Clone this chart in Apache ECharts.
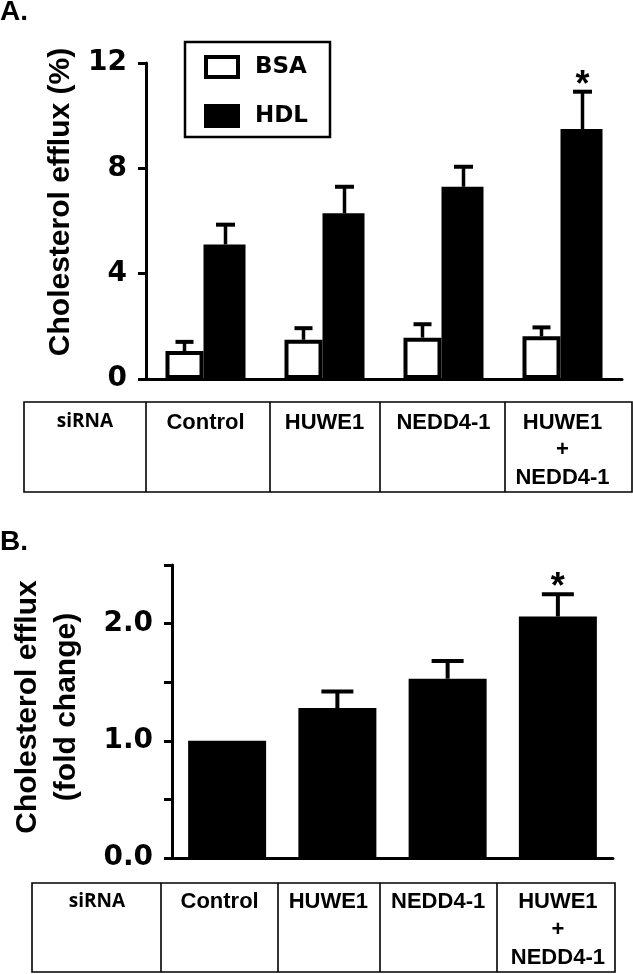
<!DOCTYPE html>
<html>
<head>
<meta charset="utf-8">
<script src="https://cdn.jsdelivr.net/npm/echarts@6/dist/echarts.min.js"></script>
<style>html,body{margin:0;padding:0;background:#fff;}#c{width:633px;height:974px;}</style>
</head>
<body>
<div id="c"></div>
<script>
// ---- data ----
const categories = ['Control', 'HUWE1', 'NEDD4-1', 'HUWE1\n+\nNEDD4-1'];
const rowHeader = 'siRNA';
const seriesNamesA = ['BSA', 'HDL'];
const bsaMean = [1.06, 1.49, 1.57, 1.62];
const bsaSem  = [0.35, 0.44, 0.51, 0.34];
const hdlMean = [5.11, 6.29, 7.30, 9.49];
const hdlSem  = [0.75, 1.01, 0.76, 1.42];
const sigA    = ['', '', '', '*'];
const foldMean = [1.0, 1.28, 1.53, 2.06];
const foldSem  = [0, 0.14, 0.15, 0.19];
const sigB     = ['', '', '', '*'];
const yTitleA = 'Cholesterol efflux (%)';
const yTitleB = 'Cholesterol efflux\n(fold change)';

// ---- style ----
const BLACK = '#000';
const ARIAL = '"Liberation Sans", Arial, sans-serif';
const DEJAVU = '"DejaVu Sans", sans-serif';
const labelShiftB = [15, 18, 19, 0];

function errRender(offset, capW, lw, sig, starGap) {
  return function (params, api) {
    const i = api.value(0), m = api.value(1), s = api.value(2);
    const p0 = api.coord([i, m]);
    const p1 = api.coord([i, m + s]);
    const x = p0[0] + offset;
    const children = [];
    if (s > 0) {
      children.push({type: 'line', shape: {x1: x, y1: p0[1], x2: x, y2: p1[1]}, style: {stroke: BLACK, lineWidth: lw}});
      children.push({type: 'line', shape: {x1: x - capW / 2, y1: p1[1], x2: x + capW / 2, y2: p1[1]}, style: {stroke: BLACK, lineWidth: 4}});
    }
    if (sig && sig[i]) {
      children.push({type: 'text', x: x, y: p1[1] - starGap,
        style: {text: sig[i], fill: BLACK, font: 'bold 36px ' + ARIAL, align: 'center', verticalAlign: 'middle', textAlign: 'center', textVerticalAlign: 'middle'}});
    }
    return {type: 'group', children: children};
  };
}

function tableEls(x0, x1, y0, y1, cols, hx, hy) {
  const els = [{type: 'rect', shape: {x: x0, y: y0, width: x1 - x0, height: y1 - y0}, style: {fill: null, stroke: BLACK, lineWidth: 1.6}}];
  cols.forEach(function (cx) {
    els.push({type: 'line', shape: {x1: cx, y1: y0, x2: cx, y2: y1}, style: {stroke: BLACK, lineWidth: 1.6}});
  });
  els.push({type: 'text', x: hx, y: hy, style: {text: rowHeader, fill: BLACK, font: 'bold 19px "Open Sans", sans-serif', align: 'center', verticalAlign: 'middle', textAlign: 'center', textVerticalAlign: 'middle'}});
  return els;
}

const chart = echarts.init(document.getElementById('c'), null, {renderer: 'canvas'});
const tickLabel = {color: BLACK, fontFamily: DEJAVU, fontWeight: 'bold', fontSize: 28, margin: 19};
const catLabelBase = {color: BLACK, fontFamily: ARIAL, fontWeight: 'bold', fontSize: 22, verticalAlign: 'top'};

const option = {
  animation: false,
  backgroundColor: '#fff',
  title: [
    {text: 'A.', left: 0, top: -2, padding: 0, textStyle: {fontFamily: ARIAL, fontWeight: 'bold', fontSize: 28, color: BLACK}},
    {text: 'B.', left: 0, top: 528, padding: 0, textStyle: {fontFamily: ARIAL, fontWeight: 'bold', fontSize: 28, color: BLACK}}
  ],
  legend: {
    show: true, orient: 'vertical', left: 185, top: 42,
    itemWidth: 32, itemHeight: 20, itemGap: 25,
    padding: [13, 22, 9, 19],
    borderColor: BLACK, borderWidth: 2.5,
    selectedMode: false,
    textStyle: {fontFamily: DEJAVU, fontWeight: 'bold', fontSize: 23, color: BLACK, padding: [0, 0, 0, 12]},
    data: [
      {name: seriesNamesA[0], icon: 'rect', itemStyle: {color: '#fff', borderColor: BLACK, borderWidth: 4}},
      {name: seriesNamesA[1], icon: 'rect', itemStyle: {color: BLACK, borderColor: BLACK, borderWidth: 4}}
    ]
  },
  grid: [
    {left: 146, right: 11, top: 63, bottom: 974 - 379, containLabel: false},
    {left: 172, right: 20, top: 565, bottom: 974 - 858, containLabel: false}
  ],
  xAxis: [
    {type: 'category', gridIndex: 0, data: categories,
      axisLine: {lineStyle: {color: BLACK, width: 3}},
      axisTick: {alignWithLabel: true, length: 9, lineStyle: {color: BLACK, width: 2.5}},
      axisLabel: Object.assign({}, catLabelBase, {margin: 30, lineHeight: 27.5, interval: 0})},
    {type: 'category', gridIndex: 1,
      data: categories.map(function (c, i) { return {value: c, textStyle: {padding: [0, labelShiftB[i], 0, 0]}}; }),
      axisLine: {lineStyle: {color: BLACK, width: 3}},
      axisTick: {alignWithLabel: true, length: 9, lineStyle: {color: BLACK, width: 2.5}},
      axisLabel: Object.assign({}, catLabelBase, {margin: 30, lineHeight: 28, interval: 0})}
  ],
  yAxis: [
    {type: 'value', gridIndex: 0, min: 0, max: 12, interval: 4,
      name: yTitleA, nameLocation: 'middle', nameRotate: 90, nameGap: 70,
      nameTextStyle: {fontFamily: ARIAL, fontWeight: 'bold', fontSize: 30, color: BLACK, padding: [0, 0, 0, 38]},
      axisLine: {show: true, lineStyle: {color: BLACK, width: 3}},
      axisTick: {show: true, length: 8, lineStyle: {color: BLACK, width: 3}},
      splitLine: {show: false},
      axisLabel: tickLabel},
    {type: 'value', gridIndex: 1, min: 0, max: 2.5, interval: 0.5,
      name: yTitleB, nameLocation: 'middle', nameRotate: 90, nameGap: 86,
      nameTextStyle: {fontFamily: ARIAL, fontWeight: 'bold', fontSize: 30, color: BLACK, lineHeight: 39, padding: [0, 0, 0, 9]},
      axisLine: {show: true, lineStyle: {color: BLACK, width: 3}},
      axisTick: {show: true, length: 8, lineStyle: {color: BLACK, width: 3}},
      splitLine: {show: false},
      axisLabel: Object.assign({}, tickLabel, {formatter: function (v) { return (Math.abs(v % 1) < 1e-9) ? v.toFixed(1) : ''; }})}
  ],
  series: [
    {name: seriesNamesA[0], type: 'bar', xAxisIndex: 0, yAxisIndex: 0, data: bsaMean, barWidth: 38, barGap: '0%',
      itemStyle: {color: '#fff', borderColor: BLACK, borderWidth: 4}},
    {name: seriesNamesA[1], type: 'bar', xAxisIndex: 0, yAxisIndex: 0, data: hdlMean, barWidth: 42, barGap: '0%',
      itemStyle: {color: BLACK}},
    {name: 'BSA err', type: 'custom', xAxisIndex: 0, yAxisIndex: 0, z: 3,
      data: bsaMean.map(function (m, i) { return [i, m, bsaSem[i]]; }),
      encode: {x: 0, y: [1, 2]}, renderItem: errRender(-21, 18, 3.5, null, 0)},
    {name: 'HDL err', type: 'custom', xAxisIndex: 0, yAxisIndex: 0, z: 3,
      data: hdlMean.map(function (m, i) { return [i, m, hdlSem[i]]; }),
      encode: {x: 0, y: [1, 2]}, renderItem: errRender(20, 19, 3.5, sigA, 6)},
    {name: 'Fold', type: 'bar', xAxisIndex: 1, yAxisIndex: 1, data: foldMean, barWidth: 78,
      itemStyle: {color: BLACK}},
    {name: 'Fold err', type: 'custom', xAxisIndex: 1, yAxisIndex: 1, z: 3,
      data: foldMean.map(function (m, i) { return [i, m, foldSem[i]]; }),
      encode: {x: 0, y: [1, 2]}, renderItem: errRender(0, 32, 4, sigB, 6)}
  ],
  graphic: tableEls(24, 632, 402, 492, [146, 270, 380, 505], 85, 422)
    .concat(tableEls(32, 615, 883, 972, [161, 278, 380, 497], 97, 902))
};
chart.setOption(option);
</script>
</body>
</html>
